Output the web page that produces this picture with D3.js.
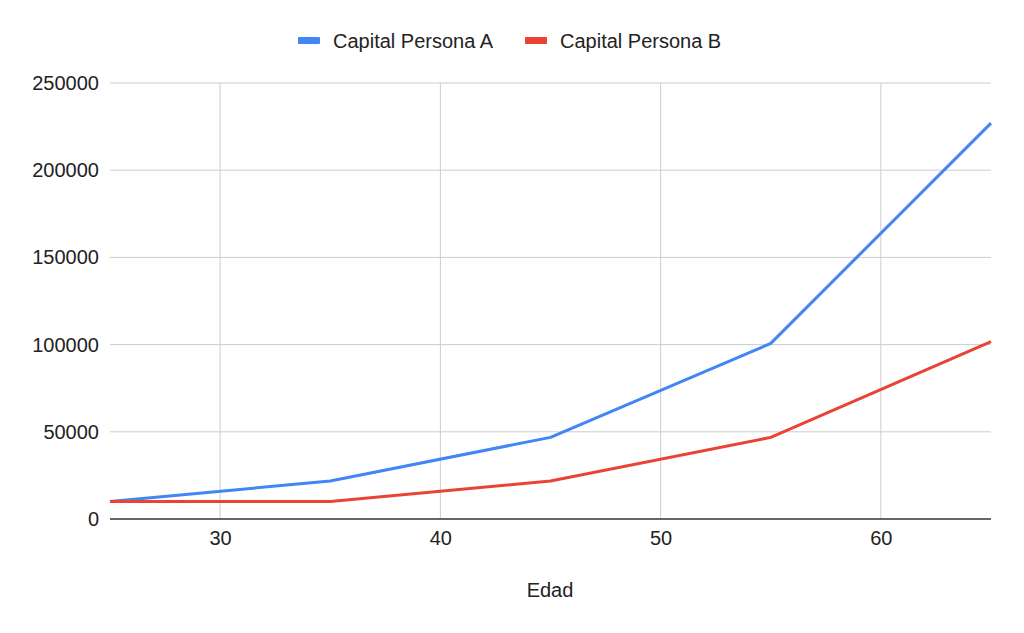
<!DOCTYPE html>
<html>
<head>
<meta charset="utf-8">
<script src="https://cdn.jsdelivr.net/npm/d3@7"></script>
<style>
  body { margin: 0; background: #fff; }
  text { font-family: "Liberation Sans", Arial, sans-serif; fill: #222; }
</style>
</head>
<body>
<div class="chart"></div>
<script>
var ages = [25, 35, 45, 55, 65];
var capitalA = [10000, 21800, 46800, 100700, 227000];
var capitalB = [10000, 10000, 21800, 46800, 101700];
var seriesNames = ["Capital Persona A", "Capital Persona B"];
var seriesColors = ["#4285f4", "#ea4335"];
var xTicks = [30, 40, 50, 60];
var yTicks = [0, 50000, 100000, 150000, 200000, 250000];

var margin = {top: 83, right: 33, bottom: 114, left: 110},
  width = 1024 - margin.left - margin.right,
  height = 633 - margin.top - margin.bottom;

var root = d3.select(".chart")
    .append("svg")
    .attr("width", 1024)
    .attr("height", 633);

var svg = root.append("g")
    .attr("transform", "translate(" + margin.left + "," + margin.top + ")");

var x = d3.scaleLinear().domain([25, 65]).range([0, width]);
var y = d3.scaleLinear().domain([0, 250000]).range([height, 0]);

// gridlines
svg.selectAll(".hgrid")
    .data(yTicks.slice(1))
    .enter().append("line")
    .attr("x1", 0).attr("x2", width)
    .attr("y1", d => y(d)).attr("y2", d => y(d))
    .style("stroke", "#cccccc").style("stroke-width", 1);

svg.selectAll(".vgrid")
    .data(xTicks)
    .enter().append("line")
    .attr("x1", d => x(d)).attr("x2", d => x(d))
    .attr("y1", 0).attr("y2", height)
    .style("stroke", "#cccccc").style("stroke-width", 1);

// axes (labels only)
var axisY = svg.append("g")
    .call(d3.axisLeft(y).tickValues(yTicks).tickSize(0).tickPadding(11).tickFormat(d3.format("d")));
axisY.select(".domain").remove();
axisY.selectAll("text").style("font-size", "20px").style("fill", "#222")
    .style("font-family", "'Liberation Sans', Arial, sans-serif");

var axisX = svg.append("g")
    .attr("transform", "translate(0," + height + ")")
    .call(d3.axisBottom(x).tickValues(xTicks).tickSize(0).tickPadding(12));
axisX.select(".domain").remove();
axisX.selectAll("text").style("font-size", "20px").style("fill", "#222")
    .style("font-family", "'Liberation Sans', Arial, sans-serif");

// baseline
svg.append("line")
    .attr("x1", 0).attr("x2", width)
    .attr("y1", y(0)).attr("y2", y(0))
    .style("stroke", "#333").style("stroke-width", 1.5);

// lines
var line = d3.line().x((d, i) => x(ages[i])).y(d => y(d));
[capitalA, capitalB].forEach(function(vals, k) {
  svg.append("path")
      .datum(vals)
      .attr("d", line)
      .style("fill", "none")
      .style("stroke", seriesColors[k])
      .style("stroke-width", 3)
      .style("stroke-linejoin", "round");
});

// axis title
root.append("text")
    .attr("x", 550).attr("y", 597)
    .attr("text-anchor", "middle")
    .style("font-size", "20px")
    .text("Edad");

// legend
var legendX = [298, 525];
seriesNames.forEach(function(name, k) {
  var g = root.append("g").attr("transform", "translate(" + legendX[k] + ",37)");
  g.append("rect").attr("x", 0).attr("y", 0).attr("width", 22).attr("height", 7)
      .attr("rx", 1).style("fill", seriesColors[k]);
  g.append("text").attr("x", 35).attr("y", 11).style("font-size", "20px").text(name);
});
</script>
</body>
</html>
